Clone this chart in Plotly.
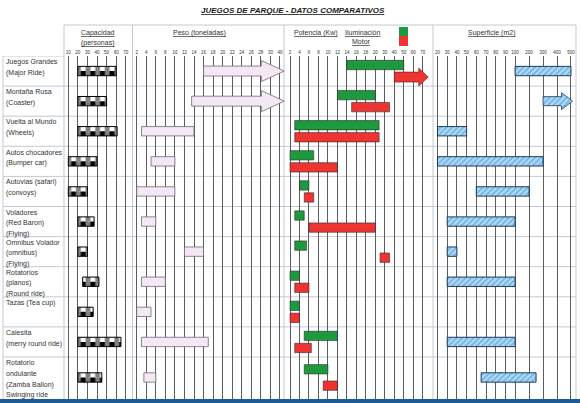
import numpy as np
import plotly.graph_objects as go

# ---------------- data ----------------
ROW_LABELS = [
    "Juegos Grandes|(Major Ride)",
    "Montaña Rusa|(Coaster)",
    "Vuelta al Mundo|(Wheels)",
    "Autos chocadores|(Bumper car)",
    "Autovias (safari)|(convoys)",
    "Voladores|(Red Baron)|(Flying)",
    "Omnibus Volador|(omnibus)|(Flying)",
    "Rotatorios|(planos)|(Round ride)",
    "Tazas (Tea cup)",
    "Calesita|(merry round ride)",
    "Rotatorio|ondulante|(Zamba Ballon)|Swinging ride",
]

CAP_TICKS = [10, 20, 30, 40, 50, 60, 70]
PESO_TICKS = [2, 4, 6, 8, 10, 12, 14, 16, 18, 20, 22, 24, 26, 28, 30, 40]
POT_TICKS = [2, 4, 6, 8, 10, 12, 14, 16, 18, 20, 30, 40, 50, 60, 70]
SUP_TICKS = [20, 30, 40, 50, 60, 70, 80, 90, 100, 200, 300, 400, 500]

# Capacidad (personas)
CAP_MIN = [20, 20, 20, 10, 10, 20, 20, 25, 20, 20, 20]
CAP_MAX = [60, 50, 61, 40, 30, 37, 30, 42, 36, 65, 45]
# Peso (toneladas); None = beyond the scale (arrow)
PESO_MIN = [16, 13.5, 3, 5, 2, 3, 12, 3, 2, 3, 3.5]
PESO_MAX = [None, None, 14, 10, 10, 6, 16, 8, 5, 17, 6]
# Potencia (Kw) - Iluminación
ILUM_MIN = [14, 12, 3, 2, 4, 3, 3, 2, 2, 5, 5]
ILUM_MAX = [50, 20, 24, 7, 6, 5, 5.5, 4, 4, 12, 10]
# Potencia (Kw) - Motor; None = beyond the scale (arrow)
MOTOR_MIN = [40, 15, 3, 2, 5, 6, 25, 3, 2, 3, 9]
MOTOR_MAX = [None, 35, 24, 12, 7, 20, 35, 6, 4, 6.5, 12]
# Superficie (m2); None max = beyond the scale (arrow), both None = no data
SUP_MIN = [100, 300, 20, 20, 60, 30, 30, 30, None, 30, 65]
SUP_MAX = [500, None, 50, 300, 200, 100, 40, 100, None, 100, 250]

# ---------------- layout / style constants ----------------
W, H = 580, 403
TOP_PX = 56
ROW_PX = 30.1
ROW_H = [1.0] * 10 + [1.36]
BAR_H = 0.31
FONT = "Liberation Sans, Arial, sans-serif"

GREEN = "#1e9a3e"
RED = "#ee3431"
LAV_FILL = "#f4e8f5"
LAV_LINE = "#6f6a78"
BLUE_BG = "#b3daf4"
BLUE_FG = "#2b8ad4"
BLUE_LINE = "#1b3a5e"
GRID = "#5c5c5c"
TABLE = "#c3c9d4"
TEXT = "#333333"

PANELS = {
    "cap": dict(axis="x", ticks=CAP_TICKS, steps=[1] * 6, p0=68.3, step=9.57, left=64, right=132.5),
    "peso": dict(axis="x2", ticks=PESO_TICKS, steps=[1] * 15, p0=136.7, step=9.55, left=132.5, right=284),
    "pot": dict(axis="x3", ticks=POT_TICKS, steps=[1] * 14, p0=290.0, step=9.48, left=284, right=433),
    "sup": dict(axis="x4", ticks=SUP_TICKS, steps=[1] * 8 + [1.44] * 4, p0=437.5, step=9.7, left=433, right=576),
}
for p in PANELS.values():
    p["pos"] = np.concatenate([[0.0], np.cumsum(p["steps"])])


def to_pos(panel, v):
    p = PANELS[panel]
    return np.interp(np.asarray(v, dtype=float), p["ticks"], p["pos"])


def px(x):
    return x / W


def py(y):
    return 1 - y / H


n = len(ROW_LABELS)
row_top = np.concatenate([[0.0], np.cumsum(ROW_H)[:-1]])
row_h = np.array(ROW_H)
y_mid = row_top + 0.5 * row_h
y_green = row_top + 0.3 * row_h
y_red = row_top + 0.7 * row_h


def hbar(panel, y, lo, hi, width, marker):
    a = to_pos(panel, lo)
    b = to_pos(panel, hi)
    return go.Bar(orientation="h", y=y, base=a, x=b - a, width=width,
                  xaxis=PANELS[panel]["axis"], yaxis="y", marker=marker,
                  hoverinfo="skip", showlegend=False)


def arrow(panel, lo, yc, overshoot, head_len, shaft_h, head_h, **kw):
    p = PANELS[panel]
    x0 = float(to_pos(panel, lo))
    tip = p["pos"][-1] + overshoot
    xb = tip - head_len
    xs = [x0, xb, xb, tip, xb, xb, x0, x0]
    ys = [yc - shaft_h / 2, yc - shaft_h / 2, yc - head_h / 2, yc,
          yc + head_h / 2, yc + shaft_h / 2, yc + shaft_h / 2, yc - shaft_h / 2]
    return go.Scatter(x=xs, y=ys, mode="lines", fill="toself", xaxis=p["axis"], yaxis="y",
                      hoverinfo="skip", showlegend=False, **kw)


fig = go.Figure()

# ---- Capacidad: checkered bars (two complementary striped halves + outline) ----
cap_lo = np.array(CAP_MIN, float)
cap_hi = np.array(CAP_MAX, float)
fig.add_trace(hbar("cap", y_mid - BAR_H / 4, cap_lo, cap_hi, BAR_H / 2,
                   dict(color="white", line=dict(width=0),
                        pattern=dict(shape="|", fgcolor="black", bgcolor="white", size=9.6, solidity=0.5))))
fig.add_trace(hbar("cap", y_mid + BAR_H / 4, cap_lo, cap_hi, BAR_H / 2,
                   dict(color="black", line=dict(width=0),
                        pattern=dict(shape="|", fgcolor="white", bgcolor="black", size=9.6, solidity=0.5))))
fig.add_trace(hbar("cap", y_mid, cap_lo, cap_hi, BAR_H,
                   dict(color="rgba(0,0,0,0)", line=dict(color="black", width=1))))

# ---- Peso ----
idx = [i for i in range(n) if PESO_MAX[i] is not None]
fig.add_trace(hbar("peso", y_mid[idx], [PESO_MIN[i] for i in idx], [PESO_MAX[i] for i in idx], BAR_H,
                   dict(color=LAV_FILL, line=dict(color=LAV_LINE, width=0.8))))
for i in range(n):
    if PESO_MAX[i] is None:
        fig.add_trace(arrow("peso", PESO_MIN[i], y_mid[i], 0.45, 2.4, 0.33, 0.7,
                            fillcolor=LAV_FILL, line=dict(color=LAV_LINE, width=0.8)))

# ---- Potencia ----
fig.add_trace(hbar("pot", y_green, ILUM_MIN, ILUM_MAX, BAR_H,
                   dict(color=GREEN, line=dict(color="#2b2b2b", width=0.6))))
idx = [i for i in range(n) if MOTOR_MAX[i] is not None]
fig.add_trace(hbar("pot", y_red[idx], [MOTOR_MIN[i] for i in idx], [MOTOR_MAX[i] for i in idx], BAR_H,
                   dict(color=RED, line=dict(color="#2b2b2b", width=0.6))))
for i in range(n):
    if MOTOR_MAX[i] is None:
        fig.add_trace(arrow("pot", MOTOR_MIN[i], y_red[i], 0.58, 1.0, 0.33, 0.6,
                            fillcolor=RED, line=dict(color="#5a1a1a", width=0.6)))

# ---- Superficie ----
blue_pat = dict(shape="/", fgcolor=BLUE_FG, bgcolor=BLUE_BG, size=4, solidity=0.45)
idx = [i for i in range(n) if SUP_MIN[i] is not None and SUP_MAX[i] is not None]
fig.add_trace(hbar("sup", y_mid[idx], [SUP_MIN[i] for i in idx], [SUP_MAX[i] for i in idx], BAR_H,
                   dict(color=BLUE_BG, line=dict(color=BLUE_LINE, width=1), pattern=blue_pat)))
for i in range(n):
    if SUP_MIN[i] is not None and SUP_MAX[i] is None:
        fig.add_trace(arrow("sup", SUP_MIN[i], y_mid[i], 0.16, 1.13, 0.3, 0.56,
                            fillcolor=BLUE_BG, fillpattern=blue_pat,
                            line=dict(color=BLUE_LINE, width=0.8)))

# ---------------- axes ----------------
layout_axes = {}
for key, p in PANELS.items():
    name = "xaxis" if p["axis"] == "x" else "xaxis" + p["axis"][1:]
    layout_axes[name] = dict(
        domain=[px(p["left"]), px(p["right"])],
        range=[(p["left"] - p["p0"]) / p["step"], (p["right"] - p["p0"]) / p["step"]],
        anchor="y", side="top", tickmode="array", tickvals=list(p["pos"]),
        ticktext=[str(t) for t in p["ticks"]], tickangle=0, ticks="",
        tickfont=dict(family=FONT, size=4.5, color=TEXT),
        showgrid=True, gridcolor=GRID, gridwidth=1, zeroline=False, showline=False,
        fixedrange=True,
    )

y_total = (H - TOP_PX) / ROW_PX
layout_axes["yaxis"] = dict(domain=[0, py(TOP_PX)], range=[y_total, 0], anchor="x",
                            visible=False, showgrid=False, zeroline=False, fixedrange=True)

# ---------------- table lines ----------------
shapes = []
bounds = np.concatenate([row_top, [row_top[-1] + row_h[-1]]])
for b in bounds[1:-1]:
    shapes.append(dict(type="line", xref="paper", yref="y", x0=px(3), x1=px(576), y0=b, y1=b,
                       line=dict(color=TABLE, width=1), layer="below"))
shapes.append(dict(type="line", xref="paper", yref="y", x0=px(3), x1=px(64), y0=0, y1=0,
                   line=dict(color=TABLE, width=1), layer="below"))
for xb in [64, 132.5, 284, 433, 576]:
    shapes.append(dict(type="line", xref="paper", yref="paper", x0=px(xb), x1=px(xb),
                       y0=py(25), y1=py(399), line=dict(color=TABLE, width=1), layer="below"))
shapes.append(dict(type="line", xref="paper", yref="paper", x0=px(3), x1=px(3),
                   y0=py(56), y1=py(399), line=dict(color=TABLE, width=1), layer="below"))
shapes.append(dict(type="line", xref="paper", yref="paper", x0=px(64), x1=px(576),
                   y0=py(25), y1=py(25), line=dict(color=TABLE, width=1), layer="below"))
# legend swatches
shapes.append(dict(type="rect", xref="paper", yref="paper", x0=px(399), x1=px(408),
                   y0=py(36), y1=py(27), fillcolor=GREEN, line=dict(width=0)))
shapes.append(dict(type="rect", xref="paper", yref="paper", x0=px(399), x1=px(408),
                   y0=py(46), y1=py(36), fillcolor=RED, line=dict(width=0)))
# bottom band
shapes.append(dict(type="rect", xref="paper", yref="paper", x0=0, x1=1,
                   y0=0, y1=py(399), fillcolor="#1d5b96", line=dict(width=0), layer="above"))

# ---------------- texts ----------------
ann = []
ann.append(dict(text="<b><i><u>JUEGOS DE PARQUE - DATOS COMPARATIVOS</u></i></b>",
                x=px(293), y=py(10), xref="paper", yref="paper", showarrow=False,
                xanchor="center", yanchor="middle", font=dict(family=FONT, size=8, color="#1a1a1a")))
headers = [
    ("<u>Capacidad</u>", 97.5, 32.5),
    ("<u>(personas)</u>", 97.5, 43),
    ("<u>Peso (toneladas)</u>", 199, 32.5),
    ("<u>Potencia (Kw)</u>", 316, 32.5),
    ("<u>Iluminación</u>", 363, 32.5),
    ("<u>Motor</u>", 361, 42),
    ("<u>Superficie (m2)</u>", 491, 32.5),
]
for t, x, y in headers:
    ann.append(dict(text=t, x=px(x), y=py(y), xref="paper", yref="paper", showarrow=False,
                    xanchor="center", yanchor="middle", font=dict(family=FONT, size=7, color=TEXT)))

for i, lab in enumerate(ROW_LABELS):
    for k, line in enumerate(lab.split("|")):
        ann.append(dict(text=line, x=px(4), y=row_top[i] + 0.19 + 0.362 * k, xref="paper", yref="y",
                        showarrow=False, xanchor="left", yanchor="middle",
                        font=dict(family=FONT, size=7, color=TEXT)))

fig.update_layout(
    width=W, height=H, margin=dict(l=0, r=0, t=0, b=0, pad=0),
    paper_bgcolor="white", plot_bgcolor="rgba(0,0,0,0)",
    barmode="overlay", showlegend=False,
    shapes=shapes, annotations=ann, **layout_axes,
)

fig.write_html("out.html", config={"displayModeBar": False, "staticPlot": True},
               post_script="document.body.style.margin='0px';document.body.style.padding='0px';")
